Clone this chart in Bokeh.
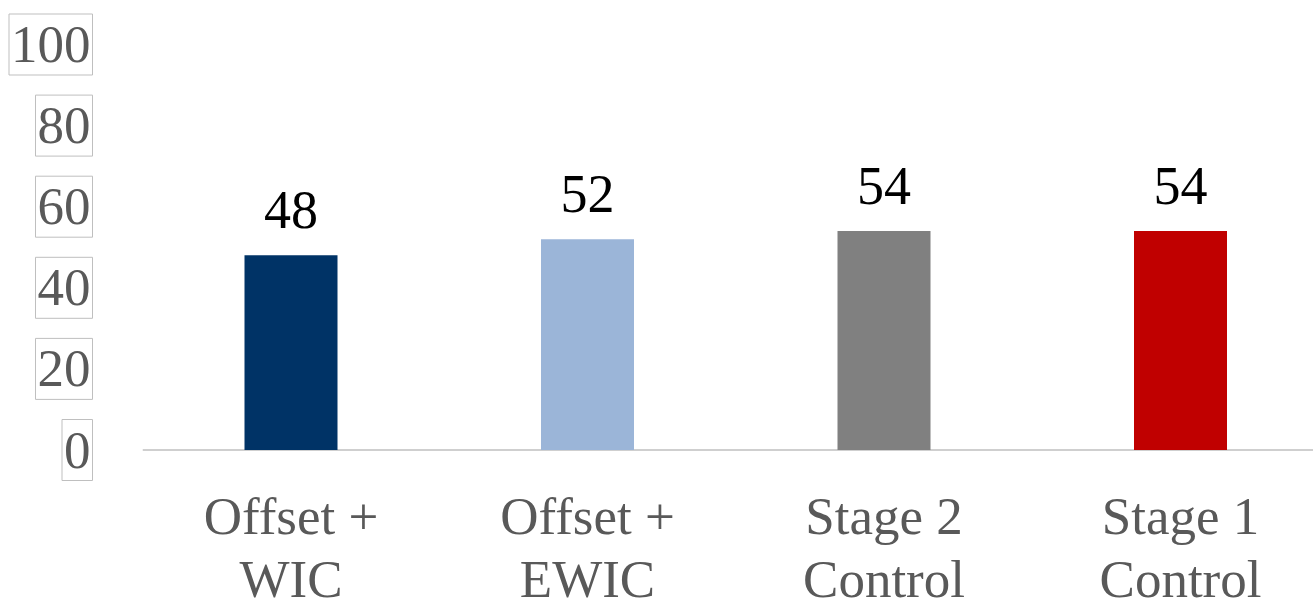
from bokeh.plotting import figure
from bokeh.models import ColumnDataSource, Range1d, Label
from bokeh.transform import dodge
from bokeh.core.properties import value
from bokeh.embed import file_html
from bokeh.resources import INLINE

categories = ["Offset +\nWIC", "Offset +\nEWIC", "Stage 2\nControl", "Stage 1\nControl"]
values = [48, 52, 54, 54]
colors = ["#003366", "#9BB5D8", "#808080", "#C00000"]
y_ticks = [0, 20, 40, 60, 80, 100]

W, H = 1313, 605
# layout in pixels
base_px, top_px = 449.5, 44.0          # value 0 and value 100
ppu = (base_px - top_px) / 100.0
band_px, first_center_px = 296.5, 290.5

xs = list(range(len(categories)))
src = ColumnDataSource(dict(x=xs, v=values, c=colors, lbl=[str(v) for v in values]))

p = figure(width=W, height=H, output_backend="svg", toolbar_location=None,
           x_range=Range1d(-first_center_px / band_px, (W - first_center_px) / band_px),
           y_range=Range1d(-(H - base_px) / ppu, base_px / ppu),
           min_border=0)
p.axis.visible = False
p.outline_line_color = None
p.xgrid.grid_line_color = None
p.ygrid.grid_line_color = None
p.background_fill_color = "white"
p.border_fill_color = "white"

# baseline (category axis line)
p.segment(x0=[-0.5], y0=[0], x1=[len(categories) + 0.5], y1=[0], line_color="#BFBFBF", line_width=1.5)

p.vbar(x="x", top="v", bottom=0, width=93 / band_px, fill_color="c", line_color=None, source=src)
p.text(x="x", y=dodge("v", 45 / ppu, range=p.y_range), text="lbl", source=src,
       text_align="center", text_baseline="middle",
       text_font=value("Liberation Serif"), text_font_size="54px", text_color="black")

# category labels
cat_src = ColumnDataSource(dict(x=xs, t=categories))
p.text(x="x", y=-(486 - base_px) / ppu, text="t", source=cat_src, text_align="center",
       text_baseline="top", text_line_height=1.1,
       text_font=value("Liberation Serif"), text_font_size="53px", text_color="#595959")

# value-axis tick labels, boxed
x_lab = (92 - first_center_px) / band_px
for t in y_ticks:
    p.add_layout(Label(x=x_lab, y=t, text=str(t), text_align="right", text_baseline="middle",
                       text_font="Liberation Serif", text_font_size="53px", text_color="#595959",
                       border_line_color="#BFBFBF", border_line_width=1,
                       padding=dict(left=2, right=2, top=13, bottom=13)))

open("out.html", "w").write(file_html(p, INLINE))
